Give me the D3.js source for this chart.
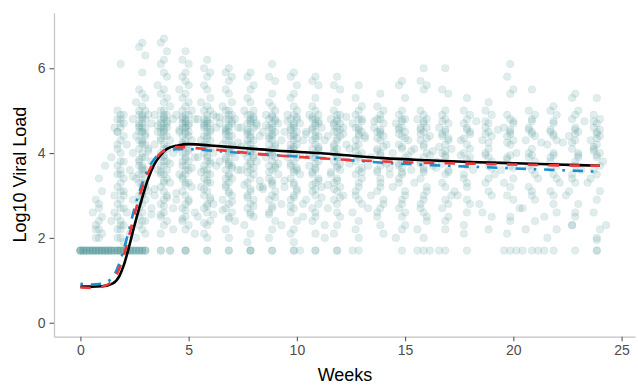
<!DOCTYPE html>
<html>
<head>
<meta charset="utf-8">
<script src="https://cdn.jsdelivr.net/npm/d3@7"></script>
<style>
  body { margin: 0; background: #fff; }
  svg { font-family: "Liberation Sans", Arial, sans-serif; }
</style>
</head>
<body>
<svg id="chart" width="638" height="386"></svg>
<script>
// log10 viral load by study visit (week), one list per visit
const visitWeeks = [1, 2, 3, 4, 5, 6, 7, 8, 9, 10, 11, 12, 13, 14, 15, 16, 17, 18, 19, 20, 21, 22, 23, 24];
const visitLoads = [
  [2.0, 2.0, 2.1, 2.2, 2.3, 2.4, 2.5, 2.6, 2.8, 2.9, 3.1, 3.4, 3.7, 2.2, 2.7],
  [6.1, 5.0, 4.9, 4.9, 4.8, 4.8, 4.7, 4.6, 4.6, 4.5, 4.4, 4.3, 4.2, 4.1, 4.0, 3.9, 3.8, 3.8, 3.7, 3.6, 3.5, 3.5, 3.4, 3.3, 3.2, 3.1, 3.0, 3.0, 2.9, 2.8, 2.7, 2.7, 2.6, 2.5, 2.4, 2.4, 2.3, 2.2, 2.2, 2.1, 2.0, 2.0, 1.9, 4.7, 4.2, 3.6, 3.1, 2.6, 2.3, 4.5],
  [6.6, 6.5, 6.3, 5.9, 5.5, 5.4, 5.3, 5.2, 5.1, 5.0, 5.0, 4.9, 4.9, 4.9, 4.8, 4.8, 4.8, 4.7, 4.7, 4.7, 4.6, 4.6, 4.6, 4.5, 4.5, 4.5, 4.4, 4.4, 4.3, 4.3, 4.2, 4.2, 4.1, 4.1, 4.0, 4.0, 3.9, 3.9, 3.8, 3.8, 3.7, 3.7, 3.6, 3.6, 3.5, 3.5, 3.4, 3.4, 3.3, 3.3, 3.2, 3.2, 3.1, 3.0, 3.0, 2.9, 2.9, 2.8, 2.7, 2.7, 2.6, 2.5, 2.4, 2.4, 2.3, 2.2, 2.1, 2.0, 4.85, 4.65, 4.45, 4.25, 4.05, 3.85, 3.65, 3.45, 3.25, 3.05, 2.85, 2.55],
  [6.7, 6.6, 6.4, 6.2, 6.1, 5.9, 5.8, 5.6, 5.5, 5.4, 5.3, 5.2, 5.1, 5.0, 5.0, 4.9, 4.9, 4.9, 4.8, 4.8, 4.8, 4.7, 4.7, 4.7, 4.6, 4.6, 4.6, 4.5, 4.5, 4.5, 4.4, 4.4, 4.3, 4.3, 4.2, 4.2, 4.1, 4.1, 4.0, 4.0, 3.9, 3.9, 3.8, 3.8, 3.7, 3.7, 3.6, 3.6, 3.5, 3.5, 3.4, 3.3, 3.3, 3.2, 3.1, 3.0, 3.0, 2.9, 2.8, 2.7, 2.6, 2.5, 2.4, 2.3, 2.1, 4.85, 4.75, 4.65, 4.55, 4.35, 4.15, 3.95, 3.75, 3.55, 3.35, 3.15, 2.95, 2.75, 2.55, 2.2],
  [6.4, 6.2, 6.1, 5.9, 5.8, 5.7, 5.6, 5.5, 5.4, 5.3, 5.2, 5.1, 5.0, 5.0, 4.9, 4.9, 4.9, 4.8, 4.8, 4.8, 4.7, 4.7, 4.7, 4.6, 4.6, 4.6, 4.5, 4.5, 4.5, 4.4, 4.4, 4.3, 4.3, 4.2, 4.2, 4.1, 4.1, 4.0, 4.0, 3.9, 3.9, 3.8, 3.8, 3.7, 3.7, 3.6, 3.6, 3.5, 3.5, 3.4, 3.3, 3.3, 3.2, 3.1, 3.0, 2.9, 2.9, 2.8, 2.7, 2.6, 2.5, 2.4, 2.3, 2.2, 4.85, 4.75, 4.65, 4.55, 4.45, 4.25, 4.05, 3.85, 3.65, 3.45, 3.25, 3.05, 2.85, 2.65, 2.45, 2.1],
  [6.2, 6.0, 5.9, 5.8, 5.6, 5.5, 5.3, 5.2, 5.1, 5.0, 5.0, 4.9, 4.9, 4.8, 4.8, 4.8, 4.7, 4.7, 4.7, 4.6, 4.6, 4.6, 4.5, 4.5, 4.4, 4.4, 4.3, 4.3, 4.2, 4.2, 4.1, 4.1, 4.0, 4.0, 3.9, 3.9, 3.8, 3.8, 3.7, 3.7, 3.6, 3.6, 3.5, 3.5, 3.4, 3.3, 3.3, 3.2, 3.1, 3.0, 2.9, 2.8, 2.8, 2.7, 2.6, 2.5, 2.4, 2.3, 2.1, 4.85, 4.75, 4.65, 4.55, 4.35, 4.15, 3.95, 3.75, 3.55, 3.35, 3.15, 2.95, 2.75, 2.55, 2.35, 2.0],
  [6.0, 5.9, 5.8, 5.7, 5.5, 5.4, 5.2, 5.1, 5.0, 5.0, 4.9, 4.9, 4.8, 4.8, 4.8, 4.7, 4.7, 4.6, 4.6, 4.6, 4.5, 4.5, 4.4, 4.4, 4.3, 4.3, 4.2, 4.2, 4.1, 4.1, 4.0, 4.0, 3.9, 3.9, 3.8, 3.8, 3.7, 3.7, 3.6, 3.6, 3.5, 3.4, 3.4, 3.3, 3.2, 3.1, 3.0, 2.9, 2.8, 2.7, 2.6, 2.5, 2.4, 2.2, 2.0, 4.85, 4.75, 4.65, 4.45, 4.25, 4.05, 3.85, 3.65, 3.45, 3.25, 3.05, 2.85, 2.65, 2.45, 4.55, 4.15, 3.75],
  [5.9, 5.8, 5.6, 5.5, 5.3, 5.2, 5.0, 5.0, 4.9, 4.9, 4.8, 4.8, 4.7, 4.7, 4.7, 4.6, 4.6, 4.5, 4.5, 4.4, 4.4, 4.3, 4.3, 4.2, 4.2, 4.1, 4.1, 4.0, 4.0, 3.9, 3.9, 3.8, 3.8, 3.7, 3.6, 3.6, 3.5, 3.4, 3.3, 3.2, 3.1, 3.0, 2.9, 2.8, 2.7, 2.6, 2.5, 2.3, 2.1, 1.9, 4.85, 4.75, 4.65, 4.55, 4.35, 4.15, 3.95, 3.75, 3.55, 3.35, 3.15, 2.95, 2.75, 2.55, 4.45, 4.05, 3.65, 3.25],
  [6.1, 5.8, 5.7, 5.4, 5.2, 5.1, 5.0, 4.9, 4.9, 4.8, 4.8, 4.7, 4.7, 4.6, 4.6, 4.5, 4.5, 4.4, 4.4, 4.3, 4.3, 4.2, 4.2, 4.1, 4.0, 4.0, 3.9, 3.9, 3.8, 3.7, 3.7, 3.6, 3.5, 3.4, 3.3, 3.2, 3.1, 3.0, 2.9, 2.8, 2.7, 2.6, 2.4, 2.2, 2.0, 4.85, 4.75, 4.65, 4.55, 4.35, 4.15, 3.95, 3.75, 3.55, 3.35, 3.15, 2.95, 2.75, 2.55, 2.3, 4.45, 4.05, 3.65, 3.25],
  [5.9, 5.8, 5.6, 5.4, 5.3, 5.1, 5.0, 4.9, 4.9, 4.8, 4.8, 4.7, 4.7, 4.6, 4.6, 4.5, 4.5, 4.4, 4.4, 4.3, 4.3, 4.2, 4.2, 4.1, 4.1, 4.0, 3.9, 3.9, 3.8, 3.7, 3.6, 3.6, 3.5, 3.4, 3.3, 3.2, 3.1, 3.0, 2.9, 2.8, 2.7, 2.6, 2.4, 2.2, 2.1, 1.9, 4.85, 4.75, 4.65, 4.55, 4.35, 4.15, 3.95, 3.75, 3.55, 3.35, 3.15, 2.95, 2.75, 2.5, 4.45, 4.05, 3.65, 3.25],
  [5.8, 5.7, 5.6, 5.3, 5.1, 5.0, 4.9, 4.9, 4.8, 4.8, 4.7, 4.7, 4.6, 4.6, 4.5, 4.5, 4.4, 4.4, 4.3, 4.3, 4.2, 4.1, 4.1, 4.0, 3.9, 3.9, 3.8, 3.7, 3.6, 3.5, 3.4, 3.3, 3.2, 3.1, 3.0, 2.9, 2.8, 2.6, 2.4, 2.3, 2.1, 4.85, 4.75, 4.65, 4.55, 4.35, 4.15, 3.95, 3.75, 3.55, 3.35, 3.15, 2.95, 2.7, 2.5, 4.45, 4.05, 3.65, 3.25, 2.0],
  [5.8, 5.6, 5.5, 5.2, 5.0, 4.9, 4.9, 4.8, 4.8, 4.7, 4.7, 4.6, 4.6, 4.5, 4.5, 4.4, 4.4, 4.3, 4.2, 4.2, 4.1, 4.0, 3.9, 3.9, 3.8, 3.7, 3.6, 3.5, 3.4, 3.3, 3.2, 3.1, 3.0, 2.9, 2.8, 2.7, 2.5, 2.3, 2.1, 4.85, 4.75, 4.65, 4.55, 4.35, 4.15, 3.95, 3.75, 3.55, 3.35, 3.15, 2.95, 2.6, 4.45, 4.05, 3.65, 3.25],
  [5.6, 5.3, 5.1, 5.0, 4.9, 4.8, 4.8, 4.7, 4.6, 4.6, 4.5, 4.4, 4.4, 4.3, 4.2, 4.1, 4.0, 3.9, 3.8, 3.7, 3.6, 3.5, 3.4, 3.2, 3.0, 2.9, 2.8, 2.6, 2.4, 2.2, 4.75, 4.55, 4.35, 4.15, 3.95, 3.75, 3.55, 3.3, 3.1, 2.7, 4.45, 4.05, 3.65, 2.0],
  [5.4, 5.1, 5.0, 4.9, 4.8, 4.8, 4.7, 4.6, 4.5, 4.5, 4.4, 4.3, 4.2, 4.1, 4.0, 3.9, 3.8, 3.7, 3.6, 3.5, 3.3, 3.1, 2.9, 2.7, 2.5, 2.3, 2.1, 4.75, 4.55, 4.35, 4.15, 3.95, 3.75, 3.55, 3.2, 3.0, 2.8, 4.45, 4.05, 3.65, 3.4, 2.6],
  [5.7, 5.6, 5.3, 5.0, 4.9, 4.8, 4.8, 4.7, 4.6, 4.6, 4.5, 4.4, 4.3, 4.2, 4.1, 4.0, 3.9, 3.8, 3.7, 3.6, 3.5, 3.3, 3.1, 2.9, 2.7, 2.5, 2.3, 2.0, 4.75, 4.55, 4.35, 4.15, 3.95, 3.75, 3.55, 3.2, 3.0, 2.8, 4.45, 4.05, 3.65, 3.4, 2.6, 2.2],
  [6.0, 5.7, 5.6, 5.5, 5.0, 4.9, 4.8, 4.8, 4.7, 4.6, 4.6, 4.5, 4.4, 4.3, 4.2, 4.1, 4.0, 3.9, 3.8, 3.7, 3.6, 3.4, 3.2, 3.0, 2.8, 2.6, 2.4, 2.2, 4.75, 4.55, 4.35, 4.15, 3.95, 3.75, 3.55, 3.3, 3.1, 2.9, 4.45, 4.05, 3.65, 2.7, 2.5, 2.0],
  [6.0, 5.5, 5.4, 5.0, 4.9, 4.8, 4.7, 4.6, 4.5, 4.4, 4.3, 4.2, 4.1, 4.0, 3.9, 3.8, 3.6, 3.5, 3.3, 3.1, 2.9, 2.7, 2.5, 2.2, 4.75, 4.55, 4.35, 4.15, 3.95, 3.75, 3.55, 3.2, 3.0, 4.45, 4.05, 3.65, 2.8, 2.4],
  [5.3, 5.0, 4.9, 4.8, 4.7, 4.6, 4.5, 4.3, 4.2, 4.0, 3.9, 3.7, 3.6, 3.4, 3.2, 3.0, 2.8, 2.6, 2.3, 4.75, 4.55, 4.35, 4.1, 3.85, 3.5, 3.3, 4.45, 3.95, 2.9, 2.1],
  [5.2, 5.0, 4.9, 4.7, 4.6, 4.5, 4.4, 4.3, 4.1, 4.0, 3.8, 3.7, 3.5, 3.3, 3.1, 2.8, 2.5, 2.2, 4.75, 4.55, 4.25, 3.95, 3.65, 3.4, 4.45, 3.9, 3.0, 2.6],
  [6.1, 5.8, 5.5, 5.4, 4.9, 4.8, 4.7, 4.6, 4.5, 4.4, 4.3, 4.2, 4.0, 3.9, 3.7, 3.6, 3.4, 3.2, 3.0, 2.7, 2.4, 2.1, 4.75, 4.55, 4.25, 3.95, 3.65, 3.3, 4.45, 3.85, 2.9, 2.5],
  [5.5, 5.0, 4.9, 4.8, 4.6, 4.5, 4.4, 4.3, 4.1, 3.9, 3.8, 3.6, 3.4, 3.2, 3.0, 2.7, 2.4, 4.75, 4.55, 4.25, 3.95, 3.7, 3.5, 4.45, 4.0, 3.1, 2.9, 2.2],
  [5.1, 5.0, 4.9, 4.7, 4.5, 4.4, 4.3, 4.2, 4.0, 3.8, 3.7, 3.5, 3.3, 3.1, 2.8, 2.5, 2.2, 4.75, 4.55, 4.25, 3.95, 3.65, 3.4, 4.45, 3.9, 3.0, 2.6, 2.0],
  [5.4, 5.3, 5.0, 4.9, 4.8, 4.6, 4.5, 4.4, 4.3, 4.1, 4.0, 3.8, 3.6, 3.5, 3.3, 3.0, 2.8, 2.5, 2.3, 4.75, 4.55, 4.25, 3.95, 3.7, 3.4, 4.45, 3.9, 3.1, 2.6, 2.3],
  [5.3, 4.9, 4.8, 4.7, 4.6, 4.5, 4.4, 4.3, 4.2, 4.1, 4.0, 3.9, 3.8, 3.6, 3.5, 3.3, 3.1, 2.9, 2.6, 2.3, 2.0, 4.75, 4.55, 4.35, 4.15, 3.95, 3.7, 3.4, 4.45, 4.05, 2.2, 1.95]
];
// visit day relative to scheduled day (cycled over the points of a visit)
const visitDayShift = [0, -1, 1, 0, -1, 0, 1, -2, 0, -1, 1, 0, 2, -1, 0, -3, 1, 0, -1, 3];

// samples below detection (plotted at the limit), by study day
const lodLoad = 1.7;
const lodDays = [0, 0, 0, 0, 0, 1, 1, 1, 1, 2, 2, 2, 2, 3, 3, 3, 3, 4, 4, 4, 4, 5, 5, 5, 5, 6, 6, 6, 6, 7, 7, 7, 7, 8, 8, 8, 8, 9, 9, 9, 9, 10, 10, 10, 10, 11, 11, 11, 12, 12, 12, 12, 13, 13, 13, 13, 14, 14, 14, 14, 15, 15, 15, 16, 16, 16, 17, 17, 17, 18, 18, 18, 19, 19, 19, 20, 20, 20, 21, 21, 21, 26, 26, 29, 29, 34, 34, 34, 41, 41, 48, 48, 55, 55, 55, 62, 62, 69, 69, 71, 76, 76, 83, 83, 88, 90, 104, 109, 111, 113, 116, 118, 125, 137, 139, 141, 143, 146, 148, 150, 153, 160, 167, 167];

// fitted curves
const fitWeeks = [0, 0.5, 1, 1.5, 1.8, 2, 2.2, 2.5, 2.8, 3.1, 3.4, 3.7, 4, 4.5, 5, 5.5, 6, 7, 8, 9, 10, 11, 12, 14, 16, 18, 20, 22, 24];
const fitSolid   = [0.85, 0.85, 0.86, 0.93, 1.1, 1.35, 1.7, 2.3, 2.85, 3.35, 3.72, 3.95, 4.1, 4.18, 4.21, 4.2, 4.18, 4.14, 4.1, 4.06, 4.03, 4.0, 3.96, 3.88, 3.83, 3.79, 3.76, 3.73, 3.7];
const fitDashed  = [0.83, 0.82, 0.85, 1.0, 1.28, 1.58, 1.95, 2.55, 3.1, 3.5, 3.8, 4.0, 4.1, 4.14, 4.13, 4.11, 4.09, 4.04, 3.99, 3.95, 3.91, 3.88, 3.85, 3.8, 3.77, 3.75, 3.73, 3.71, 3.7];
const fitDotDash = [0.92, 0.9, 0.92, 1.08, 1.4, 1.72, 2.1, 2.7, 3.2, 3.6, 3.85, 4.0, 4.06, 4.09, 4.09, 4.08, 4.06, 4.02, 3.98, 3.95, 3.92, 3.89, 3.85, 3.77, 3.72, 3.68, 3.64, 3.6, 3.56];

const xTicks = [0, 5, 10, 15, 20, 25];
const yTicks = [0, 2, 4, 6];

const svg = d3.select('#chart');

const x = d3.scaleLinear().domain([-1.22, 25.62]).range([54, 635]);
const y = d3.scaleLinear().domain([-0.33, 7.31]).range([336.7, 12.7]);

// points
const points = [];
visitWeeks.forEach((w, i) => {
    visitLoads[i].forEach((v, j) => {
        const day = w * 7 - 1 + visitDayShift[j % visitDayShift.length];
        points.push({ week: day / 7, load: v });
    });
});
lodDays.forEach(d => points.push({ week: d / 7, load: lodLoad }));

svg.append('g')
    .selectAll('circle')
    .data(points)
    .enter()
    .append('circle')
        .attr('cx', d => x(d.week))
        .attr('cy', d => y(d.load))
        .attr('r', 3.8)
        .attr('fill', '#5F9EA0')
        .attr('fill-opacity', 0.19)
        .attr('stroke', '#5F9EA0')
        .attr('stroke-opacity', 0.16)
        .attr('stroke-width', 0.6);

// curves
const line = d3.line()
    .x(d => x(d[0]))
    .y(d => y(d[1]))
    .curve(d3.curveMonotoneX);

const curves = [
    { values: fitSolid, color: '#000000', dash: null },
    { values: fitDotDash, color: '#1B8FD2', dash: '2.6,7.8,10.4,7.8' },
    { values: fitDashed, color: '#EE3A3A', dash: '10.4,10.4' }
];

curves.forEach(c => {
    svg.append('path')
        .datum(fitWeeks.map((w, i) => [w, c.values[i]]))
        .attr('d', line)
        .attr('fill', 'none')
        .attr('stroke', c.color)
        .attr('stroke-width', 2.6)
        .attr('stroke-dasharray', c.dash);
});

// axes
const xAxis = svg.append('g')
    .attr('transform', 'translate(0, 336.7)')
    .call(d3.axisBottom(x).tickValues(xTicks).tickSize(4.5).tickSizeOuter(0).tickPadding(4));

const yAxis = svg.append('g')
    .attr('transform', 'translate(54, 0)')
    .call(d3.axisLeft(y).tickValues(yTicks).tickSize(4.5).tickSizeOuter(0).tickPadding(4));

[xAxis, yAxis].forEach(a => {
    a.select('.domain').attr('stroke', '#C4C4C4').attr('stroke-width', 1.2);
    a.selectAll('.tick line').attr('stroke', '#5a5a5a').attr('stroke-width', 1.1);
    a.selectAll('.tick text')
        .attr('fill', '#4d4d4d')
        .style('font-size', '14px')
        .style('font-family', '"Liberation Sans", Arial, sans-serif');
});

svg.append('text')
    .attr('x', 345)
    .attr('y', 381)
    .attr('text-anchor', 'middle')
    .style('font-size', '18px')
    .attr('fill', '#000')
    .text('Weeks');

svg.append('text')
    .attr('transform', 'translate(26, 174.7) rotate(-90)')
    .attr('text-anchor', 'middle')
    .style('font-size', '18px')
    .attr('fill', '#000')
    .text('Log10 Viral Load');
</script>
</body>
</html>
